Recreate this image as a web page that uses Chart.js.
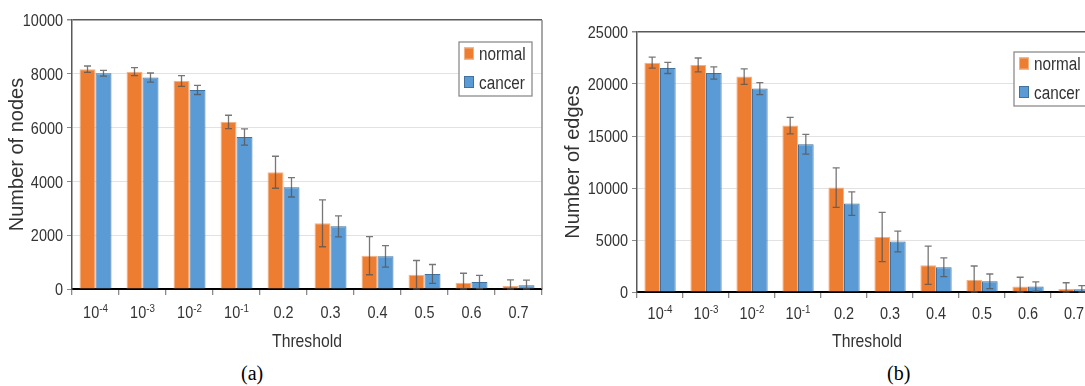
<!DOCTYPE html>
<html>
<head>
<meta charset="utf-8">
<script src="https://cdn.jsdelivr.net/npm/chart.js@4.4.1/dist/chart.umd.min.js"></script>
<style>
  html, body { margin: 0; padding: 0; background: #fff; overflow: hidden; width: 1085px; height: 386px; }
  canvas { position: absolute; top: 0; }
  .cap { position: absolute; font-family: "Liberation Serif", "Times New Roman", serif; font-size: 20px; color: #000; line-height: 23px; }
</style>
</head>
<body>
<canvas id="nodes" width="550" height="360" style="left:0"></canvas>
<canvas id="edges" width="549" height="360" style="left:556px"></canvas>
<div class="cap" style="left:241px; top:362px">(a)</div>
<div class="cap" style="left:887px; top:362px">(b)</div>
<script>
// categories, "^" marks the exponent part drawn as superscript
const thresholds = ['10^-4', '10^-3', '10^-2', '10^-1', '0.2', '0.3', '0.4', '0.5', '0.6', '0.7'];

// (a) number of nodes, mean and error
const nodesNormal = [8170, 8080, 7730, 6210, 4340, 2440, 1240, 530, 235, 110];
const nodesNormalErr = [120, 150, 200, 250, 595, 870, 710, 530, 350, 230];
const nodesCancer = [8020, 7860, 7400, 5650, 3780, 2330, 1215, 560, 260, 140];
const nodesCancerErr = [105, 170, 170, 300, 360, 390, 400, 350, 250, 190];

// (b) number of edges, mean and error
const edgesNormal = [22050, 21830, 20710, 16000, 10040, 5290, 2570, 1150, 520, 290];
const edgesNormalErr = [530, 670, 750, 800, 1900, 2370, 1840, 1350, 900, 600];
const edgesCancer = [21540, 21060, 19560, 14200, 8500, 4850, 2380, 1030, 520, 260];
const edgesCancerErr = [530, 590, 580, 950, 1130, 1000, 900, 700, 450, 350];

const seriesNames = ['normal', 'cancer'];
const seriesColors = ['#ED7D31', '#5B9BD5'];
const seriesBorders = ['#F4B183', '#41719C'];

const SANS = '"Liberation Sans", Arial, sans-serif';
const TEXT = '#333';
const SQUEEZE = 0.85; // the figure's horizontal text is condensed

function squeezed(ctx, text, x, y, size, align) {
  ctx.save();
  ctx.translate(x, y);
  ctx.scale(SQUEEZE, 1);
  ctx.font = size + 'px ' + SANS;
  ctx.textAlign = align;
  ctx.textBaseline = 'alphabetic';
  ctx.fillText(text, 0, 0);
  ctx.restore();
}
function squeezedWidth(ctx, text, size) {
  ctx.font = size + 'px ' + SANS;
  return ctx.measureText(text).width * SQUEEZE;
}

// vertical error bars with caps, placed through the y scale
const errorBars = {
  id: 'errorBars',
  afterDatasetsDraw(chart) {
    const { ctx } = chart;
    const y = chart.scales.y;
    ctx.save();
    ctx.strokeStyle = 'rgba(85,85,85,0.8)';
    ctx.lineWidth = 1.3;
    chart.data.datasets.forEach((ds, i) => {
      chart.getDatasetMeta(i).data.forEach((bar, j) => {
        const top = y.getPixelForValue(ds.data[j] + ds.errors[j]);
        const bot = y.getPixelForValue(Math.max(0, ds.data[j] - ds.errors[j]));
        ctx.beginPath();
        ctx.moveTo(bar.x, top); ctx.lineTo(bar.x, bot);
        ctx.moveTo(bar.x - 3.5, top); ctx.lineTo(bar.x + 3.5, top);
        ctx.moveTo(bar.x - 3.5, bot); ctx.lineTo(bar.x + 3.5, bot);
        ctx.stroke();
      });
    });
    ctx.restore();
  }
};

// right frame, tick labels, axis title and boxed legend
const decorations = {
  id: 'decorations',
  afterDraw(chart, args, opts) {
    const { ctx, chartArea: a } = chart;
    const x = chart.scales.x, y = chart.scales.y;
    ctx.save();
    ctx.strokeStyle = '#8a8a8a';
    ctx.lineWidth = 1.5;
    ctx.beginPath(); ctx.moveTo(a.right, a.top); ctx.lineTo(a.right, a.bottom); ctx.stroke();

    ctx.fillStyle = TEXT;
    y.ticks.forEach(t => {
      squeezed(ctx, String(t.value), a.left - 9, y.getPixelForValue(t.value) + 6.2, 17, 'right');
    });

    chart.data.labels.forEach((lab, i) => {
      const [base, sup] = lab.split('^');
      const w1 = squeezedWidth(ctx, base, 17);
      const w2 = sup ? squeezedWidth(ctx, sup, 11.5) : 0;
      const left = x.getPixelForValue(i) - (w1 + w2) / 2;
      squeezed(ctx, base, left, opts.labelY, 17, 'left');
      if (sup) squeezed(ctx, sup, left + w1, opts.labelY - 6, 11.5, 'left');
    });

    squeezed(ctx, 'Threshold', (a.left + a.right) / 2, 347, 18.5, 'center');

    const bx = a.right - 83, by = a.top + opts.legendTop;
    ctx.fillStyle = '#fff';
    ctx.fillRect(bx, by, 73, 54);
    ctx.strokeStyle = '#8c8c8c';
    ctx.lineWidth = 1.3;
    ctx.strokeRect(bx, by, 73, 54);
    chart.data.datasets.forEach((ds, i) => {
      const cy = by + 11.5 + i * 28.5;
      ctx.fillStyle = ds.backgroundColor;
      ctx.fillRect(bx + 5, cy - 6, 10, 12);
      ctx.strokeStyle = ds.borderColor;
      ctx.lineWidth = 1;
      ctx.strokeRect(bx + 5.5, cy - 5.5, 9, 11);
      ctx.fillStyle = TEXT;
      squeezed(ctx, ds.label, bx + 20, cy + 6.5, 18, 'left');
    });
    ctx.restore();
  }
};

function build(id, normal, normalErr, cancer, cancerErr, o) {
  new Chart(document.getElementById(id), {
    type: 'bar',
    data: {
      labels: thresholds,
      datasets: [
        { label: seriesNames[0], data: normal, errors: normalErr, backgroundColor: seriesColors[0], borderColor: seriesBorders[0], borderWidth: 1 },
        { label: seriesNames[1], data: cancer, errors: cancerErr, backgroundColor: seriesColors[1], borderColor: seriesBorders[1], borderWidth: 1 }
      ]
    },
    options: {
      responsive: false,
      animation: false,
      devicePixelRatio: 1,
      layout: { padding: { left: 0, right: 8, top: o.top, bottom: 9 } },
      datasets: { bar: { categoryPercentage: 0.68, barPercentage: 1 } },
      plugins: {
        legend: { display: false },
        tooltip: { enabled: false },
        decorations: { labelY: o.labelY, legendTop: o.legendTop }
      },
      scales: {
        x: {
          afterFit: s => { s.height = o.xHeight; },
          grid: { offset: true, drawOnChartArea: false, tickLength: 6, tickColor: '#8a8a8a', lineWidth: 1.3 },
          border: { color: '#000', width: 2 },
          ticks: { display: false }
        },
        y: {
          min: 0,
          max: o.max,
          afterFit: s => { s.width = o.yWidth; },
          ticks: { stepSize: o.step, display: false },
          grid: {
            color: c => c.tick.value === o.max ? '#595959' : '#e2e2e2',
            lineWidth: c => c.tick.value === o.max ? 1.5 : 1,
            tickLength: 5,
            tickColor: '#8a8a8a'
          },
          border: { color: '#595959', width: 1.5 },
          title: { display: true, text: o.yTitle, color: TEXT, font: { family: SANS, size: 20 }, padding: { top: 5.5, bottom: 0 } }
        }
      }
    },
    plugins: [errorBars, decorations]
  });
}

build('nodes', nodesNormal, nodesNormalErr, nodesCancer, nodesCancerErr,
  { top: 20, xHeight: 62, yWidth: 72, max: 10000, step: 2000, yTitle: 'Number of nodes', labelY: 317.5, legendTop: 22 });
build('edges', edgesNormal, edgesNormalErr, edgesCancer, edgesCancerErr,
  { top: 32, xHeight: 59, yWidth: 81, max: 25000, step: 5000, yTitle: 'Number of edges', labelY: 318.5, legendTop: 20 });
</script>
</body>
</html>
